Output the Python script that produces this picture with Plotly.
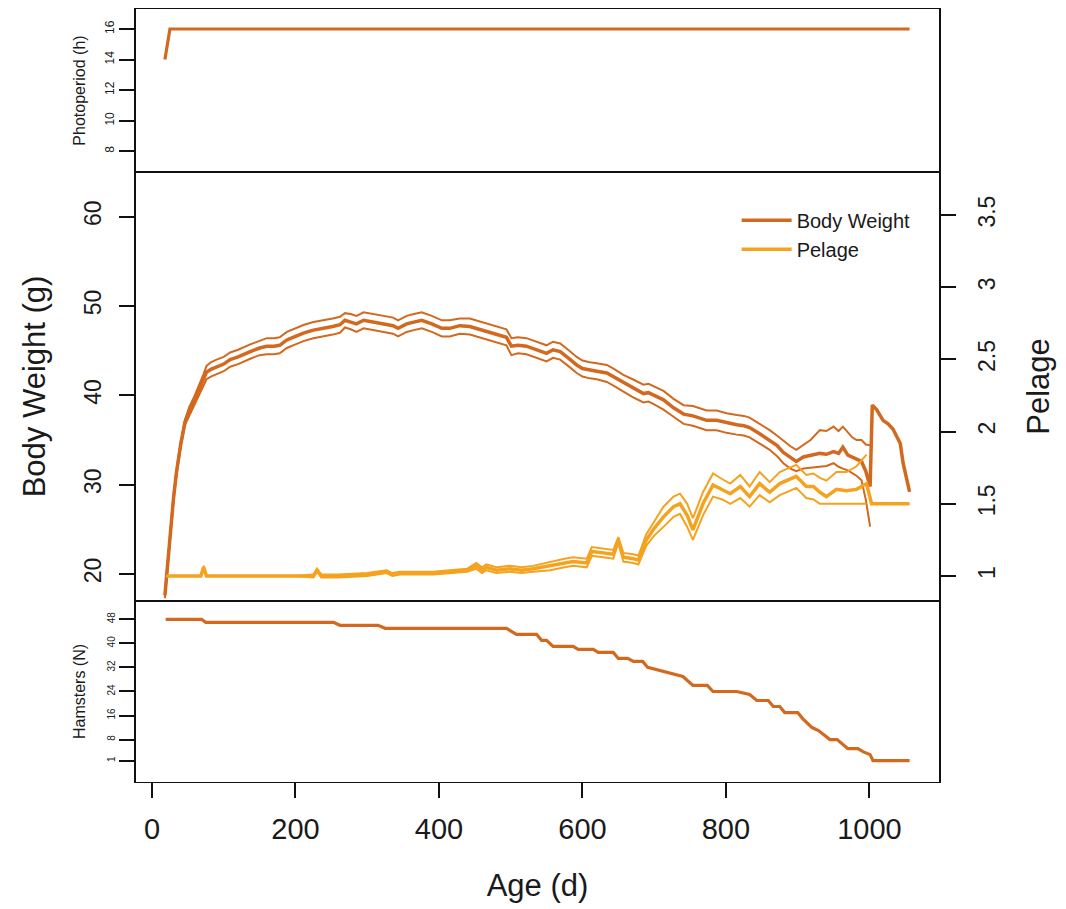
import plotly.graph_objects as go

# ---------------- data ----------------
photo_days = [18, 25, 1056]
photo_hours = [14, 16, 16]

bw_days = [18, 22, 25, 30, 34, 40, 46, 52, 58, 65, 72, 76, 82, 90, 100, 109, 120, 137, 150, 160,
           170, 178, 188, 200, 212, 225, 240, 252, 262, 269, 277, 285, 295, 310, 325, 336, 343, 355, 365, 376,
           390, 404, 415, 429, 443, 460, 475, 485, 494, 501, 510, 522, 535, 550, 559, 569, 580, 592, 600, 610,
           620, 634, 645, 657, 670, 685, 692, 700, 713, 727, 741, 754, 764, 773, 787, 801, 815, 825, 833, 847,
           861, 871, 880, 890, 898, 908, 918, 931, 940, 950, 957, 963, 970, 976, 982, 989, 995, 1001,
           1004, 1010, 1019, 1026, 1033, 1043, 1047, 1052, 1056]
bw_mean = [17.6, 21.5, 24.0, 28.5, 31.3, 34.5, 37.0, 38.2, 39.2, 40.5, 41.8, 42.6, 42.9, 43.2, 43.5, 44.0, 44.3, 44.9, 45.3, 45.5,
           45.5, 45.6, 46.2, 46.6, 47.0, 47.3, 47.5, 47.7, 47.9, 48.4, 48.2, 48.0, 48.4, 48.2, 48.0, 47.8, 47.5, 48.0, 48.2, 48.4,
           48.0, 47.5, 47.5, 47.8, 47.7, 47.3, 47.0, 46.7, 46.5, 45.5, 45.6, 45.5, 45.1, 44.7, 45.1, 44.9, 44.2, 43.4, 43.0, 42.8,
           42.7, 42.5, 42.0, 41.4, 40.8, 40.2, 40.3, 40.0, 39.5, 38.6, 37.9, 37.7, 37.4, 37.2, 37.2, 36.9, 36.7, 36.6, 36.4, 35.7,
           35.0, 34.4, 33.6, 33.0, 32.6, 33.1, 33.3, 33.5, 33.4, 33.7, 33.5, 34.2, 33.3, 33.1, 32.9, 32.6, 31.5, 29.8,
           38.9, 38.4, 37.2, 36.8, 36.2, 34.6, 32.4, 30.5, 29.2]
bw_upper = [17.9, 21.8, 24.3, 28.8, 31.6, 34.8, 37.3, 38.7, 39.7, 41.0, 42.4, 43.3, 43.7, 44.0, 44.3, 44.8, 45.1, 45.7, 46.1, 46.4,
            46.4, 46.5, 47.1, 47.5, 47.9, 48.2, 48.4, 48.6, 48.8, 49.2, 49.1, 48.9, 49.3, 49.1, 48.9, 48.7, 48.4, 48.9, 49.1, 49.3,
            48.9, 48.4, 48.4, 48.6, 48.6, 48.2, 47.9, 47.6, 47.4, 46.4, 46.5, 46.4, 46.0, 45.6, 46.0, 45.8, 45.1, 44.3, 43.9, 43.7,
            43.6, 43.4, 42.9, 42.3, 41.8, 41.2, 41.3, 41.0, 40.5, 39.6, 38.9, 38.8, 38.5, 38.3, 38.3, 38.0, 37.8, 37.7, 37.5, 36.8,
            36.1, 35.5, 34.9, 34.3, 33.9, 34.5, 35.0, 36.1, 36.0, 36.5, 36.0, 36.5, 35.8, 35.3, 35.0, 35.0, 34.5, 34.4,
            None, None, None, None, None, None, None, None, None]
bw_lower = [17.3, 21.2, 23.7, 28.2, 31.0, 34.2, 36.7, 37.7, 38.7, 40.0, 41.2, 41.8, 42.1, 42.4, 42.7, 43.2, 43.5, 44.1, 44.5, 44.6,
            44.6, 44.7, 45.3, 45.7, 46.1, 46.4, 46.6, 46.8, 47.0, 47.6, 47.4, 47.1, 47.5, 47.3, 47.1, 46.9, 46.6, 47.1, 47.3, 47.5,
            47.1, 46.6, 46.6, 46.9, 46.8, 46.4, 46.1, 45.8, 45.6, 44.5, 44.7, 44.6, 44.2, 43.8, 44.2, 44.0, 43.3, 42.5, 42.1, 41.9,
            41.8, 41.5, 41.0, 40.4, 39.8, 39.2, 39.3, 39.0, 38.4, 37.6, 36.8, 36.6, 36.3, 36.1, 36.1, 35.8, 35.6, 35.5, 35.3, 34.6,
            33.9, 33.2, 32.4, 31.8, 31.5, 31.8, 31.9, 32.0, 32.1, 32.4, 32.0, 31.8, 31.6, 31.3, 31.0, 30.5, 28.3, 25.3,
            None, None, None, None, None, None, None, None, None]

pel_days = [20, 60, 68, 72, 76, 100, 150, 200, 225, 230, 236, 260, 300, 327, 335, 346, 392, 420, 439, 452,
            460, 466, 480, 499, 515, 531, 555, 575, 587, 606, 613, 629, 643, 650, 657, 671, 678, 689, 700, 713,
            727, 736, 746, 754, 768, 782, 795, 806, 820, 833, 847, 861, 875, 889, 898, 912, 922, 931, 940, 954,
            968, 982, 996, 1003, 1010, 1030, 1056]
pel_mean = [1.00, 1.00, 1.00, 1.06, 1.00, 1.00, 1.00, 1.00, 1.00, 1.04, 1.00, 1.00, 1.01, 1.03, 1.01, 1.02, 1.02, 1.03, 1.04, 1.07,
            1.04, 1.06, 1.04, 1.05, 1.04, 1.05, 1.07, 1.09, 1.10, 1.09, 1.17, 1.16, 1.15, 1.25, 1.13, 1.12, 1.11, 1.25, 1.33, 1.41,
            1.48, 1.50, 1.42, 1.32, 1.50, 1.63, 1.60, 1.57, 1.62, 1.55, 1.64, 1.58, 1.64, 1.67, 1.69, 1.62, 1.62, 1.58, 1.55, 1.60,
            1.59, 1.60, 1.64, 1.50, 1.50, 1.50, 1.50]
pel_upper = [1.00, 1.00, 1.00, 1.07, 1.00, 1.00, 1.00, 1.00, 1.01, 1.05, 1.01, 1.01, 1.02, 1.04, 1.02, 1.03, 1.03, 1.04, 1.05, 1.09,
             1.06, 1.08, 1.06, 1.07, 1.06, 1.07, 1.10, 1.12, 1.13, 1.12, 1.20, 1.19, 1.18, 1.27, 1.16, 1.15, 1.14, 1.29, 1.38, 1.48,
             1.55, 1.57, 1.50, 1.40, 1.58, 1.71, 1.67, 1.64, 1.70, 1.62, 1.72, 1.65, 1.72, 1.75, 1.77, 1.70, 1.71, 1.68, 1.66, 1.72,
             1.72, 1.76, 1.84, None, None, None, None]
pel_lower = [1.00, 1.00, 1.00, 1.05, 1.00, 1.00, 1.00, 1.00, 0.99, 1.03, 0.99, 0.99, 1.00, 1.02, 1.00, 1.01, 1.01, 1.02, 1.03, 1.05,
             1.02, 1.04, 1.02, 1.03, 1.02, 1.03, 1.04, 1.06, 1.07, 1.06, 1.14, 1.13, 1.12, 1.23, 1.10, 1.09, 1.08, 1.21, 1.28, 1.34,
             1.41, 1.43, 1.34, 1.25, 1.42, 1.55, 1.53, 1.50, 1.54, 1.48, 1.56, 1.51, 1.56, 1.59, 1.61, 1.54, 1.53, 1.50, 1.50, 1.50,
             1.50, 1.50, 1.50, None, None, None, None]

ham_days = [19, 69, 75, 253, 262, 315, 325, 494, 508, 536, 543, 550, 559, 587, 594, 615, 622, 643, 650, 663,
            671, 684, 691, 708, 722, 740, 754, 774, 782, 815, 833, 843, 859, 866, 875, 882, 900, 907, 920, 929,
            945, 955, 970, 984, 991, 1001, 1005, 1056]
ham_n = [48, 48, 47, 47, 46, 46, 45, 45, 43, 43, 41, 41, 39, 39, 38, 38, 37, 37, 35, 35,
         34, 34, 32, 31, 30, 29, 26, 26, 24, 24, 23, 21, 21, 19, 19, 17, 17, 15, 12, 11,
         8, 8, 5, 5, 4, 3, 1, 1]

age_ticks = [0, 200, 400, 600, 800, 1000]
photo_ticks = [8, 10, 12, 14, 16]
bw_ticks = [20, 30, 40, 50, 60]
pel_ticks = [1, 1.5, 2, 2.5, 3, 3.5]
pel_ticktext = ["1", "1.5", "2", "2.5", "3", "3.5"]
ham_ticks = [1, 8, 16, 24, 32, 40, 48]

# ---------------- style ----------------
BW_COL = "#D2691E"
PEL_COL = "#F5A21E"
FONT = "Liberation Sans, Arial, Helvetica, sans-serif"
TXT = "#1a1a1a"

fig = go.Figure()

fig.add_trace(go.Scatter(x=photo_days, y=photo_hours, mode="lines", xaxis="x3", yaxis="y3",
                         line=dict(color=BW_COL, width=3.2), showlegend=False, name="Photoperiod"))

fig.add_trace(go.Scatter(x=bw_days, y=bw_upper, mode="lines", xaxis="x2", yaxis="y2",
                         line=dict(color=BW_COL, width=2), showlegend=False, connectgaps=False))
fig.add_trace(go.Scatter(x=bw_days, y=bw_lower, mode="lines", xaxis="x2", yaxis="y2",
                         line=dict(color=BW_COL, width=2), showlegend=False, connectgaps=False))
fig.add_trace(go.Scatter(x=bw_days, y=bw_mean, mode="lines", xaxis="x2", yaxis="y2",
                         line=dict(color=BW_COL, width=3.5), name="Body Weight"))

fig.add_trace(go.Scatter(x=pel_days, y=pel_upper, mode="lines", xaxis="x2", yaxis="y4",
                         line=dict(color=PEL_COL, width=2), showlegend=False, connectgaps=False))
fig.add_trace(go.Scatter(x=pel_days, y=pel_lower, mode="lines", xaxis="x2", yaxis="y4",
                         line=dict(color=PEL_COL, width=2), showlegend=False, connectgaps=False))
fig.add_trace(go.Scatter(x=pel_days, y=pel_mean, mode="lines", xaxis="x2", yaxis="y4",
                         line=dict(color=PEL_COL, width=3.5), name="Pelage"))

fig.add_trace(go.Scatter(x=ham_days, y=ham_n, mode="lines", xaxis="x", yaxis="y",
                         line=dict(color=BW_COL, width=3.2), showlegend=False, name="Hamsters"))

XR = [-22.3, 1097]
yframe = dict(showline=True, mirror=True, linecolor="#111", linewidth=2, showgrid=False, zeroline=False,
              automargin=False)
xframe = dict(showline=True, mirror=True, linecolor="#111", linewidth=1.4, showgrid=False, zeroline=False,
              automargin=False)

# page body has an 8px default margin, so the margins below are offset by 8px
fig.update_layout(
    width=1066, height=909,
    margin=dict(l=128, r=135, t=1, b=135, autoexpand=False),
    paper_bgcolor="white", plot_bgcolor="white",
    font=dict(family=FONT, color=TXT),
    xaxis=dict(domain=[0, 1], anchor="y", range=XR, tickvals=age_ticks, ticks="outside", ticklen=15,
               tickwidth=1.6, tickcolor="#111", tickfont=dict(size=29), ticklabelstandoff=6,
               title=dict(text="Age (d)", font=dict(size=31), standoff=30), **xframe),
    xaxis2=dict(domain=[0, 1], anchor="y2", range=XR, showticklabels=False, ticks="", **xframe),
    xaxis3=dict(domain=[0, 1], anchor="y3", range=XR, showticklabels=False, ticks="", **xframe),
    yaxis=dict(domain=[0, 0.2342], anchor="x", range=[-6.1, 54.1], tickvals=ham_ticks, tickangle=-90,
               ticks="outside", ticklen=15, tickwidth=1.6, tickcolor="#111", tickfont=dict(size=10),
               title=dict(text="Hamsters (N)", font=dict(size=16), standoff=16), **yframe),
    yaxis2=dict(domain=[0.2342, 0.7891], anchor="x2", range=[16.98, 65.0], tickvals=bw_ticks, tickangle=-90,
                ticks="outside", ticklen=15, tickwidth=1.6, tickcolor="#111", tickfont=dict(size=23),
                ticklabelstandoff=9,
                title=dict(text="Body Weight (g)", font=dict(size=31), standoff=25), **yframe),
    yaxis3=dict(domain=[0.7891, 1], anchor="x3", range=[6.64, 17.31], tickvals=photo_ticks, tickangle=-90,
                ticks="outside", ticklen=15, tickwidth=1.6, tickcolor="#111", tickfont=dict(size=12),
                title=dict(text="Photoperiod (h)", font=dict(size=16), standoff=14), **yframe),
    yaxis4=dict(overlaying="y2", anchor="x2", side="right", range=[0.827, 3.798], tickvals=pel_ticks,
                ticktext=pel_ticktext, tickangle=-90, ticks="outside", ticklen=15, tickwidth=1.6,
                tickcolor="#111", tickfont=dict(size=23), ticklabelstandoff=11,
                showline=True, linecolor="#111", linewidth=2, showgrid=False, zeroline=False,
                automargin=False,
                title=dict(text="Pelage", font=dict(size=31), standoff=29)),
    legend=dict(x=0.748, y=0.752, xanchor="left", yanchor="top", bgcolor="rgba(0,0,0,0)",
                font=dict(size=20, color=TXT), tracegroupgap=0, itemwidth=50),
    showlegend=True,
)

fig.write_html("out.html")
